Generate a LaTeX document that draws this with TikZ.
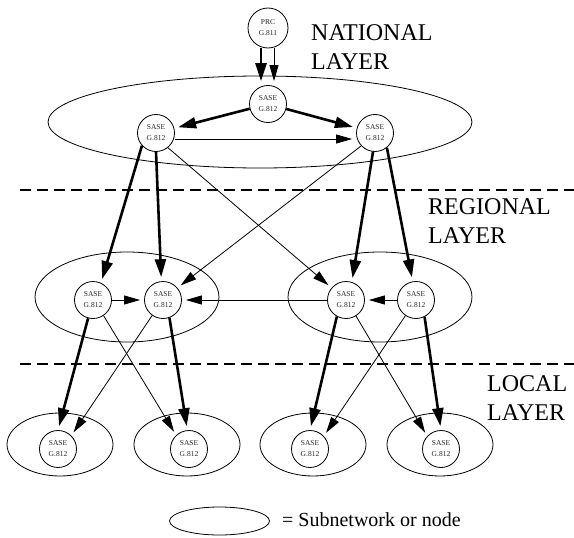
\documentclass[tikz,border=0pt]{standalone}
\usepackage{fontspec}
\setmainfont{Liberation Serif}
\usetikzlibrary{arrows.meta,shapes.geometric}
\tikzset{
  site/.style={circle, draw, fill=white, line width=0.8pt, minimum size=37pt, inner sep=0pt,
    font=\fontsize{7.5}{11}\selectfont, align=center, text=black!85},
  net/.style={ellipse, draw, line width=0.8pt, inner sep=0pt},
  big/.style={-{Triangle[length=18pt,width=11pt]}, line width=2.6pt, shorten >=4pt},
  small/.style={-{Triangle[length=16pt,width=9pt]}, line width=0.8pt, shorten >=4pt},
  layer/.style={font=\fontsize{24}{29}\selectfont, align=left, inner sep=0pt, anchor=north west},
  sep/.style={line width=2.6pt, dash pattern=on 11pt off 6pt}
}
\begin{document}
\begin{tikzpicture}[x=1pt,y=-1pt]
\useasboundingbox (0,0) rectangle (574,538);
% subnetworks
\node[net, minimum width=424pt, minimum height=92pt] (nat) at (260,122) {};
\node[net, minimum width=184pt, minimum height=90pt] (regA) at (127,297) {};
\node[net, minimum width=184pt, minimum height=90pt] (regB) at (380,297) {};
\node[net, minimum width=106pt, minimum height=63pt] (locA) at (60,444.5) {};
\node[net, minimum width=106pt, minimum height=63pt] (locB) at (187,444.5) {};
\node[net, minimum width=106pt, minimum height=63pt] (locC) at (313,444.5) {};
\node[net, minimum width=106pt, minimum height=63pt] (locD) at (440,444.5) {};
% separators
\draw[sep] (20,190) -- (574,190);
\draw[sep] (20,364) -- (574,364);
% clocks
\node[site, minimum size=40pt] (prc) at (268,28) {PRC\\G.811};
\node[site] (n0) at (268,104) {SASE\\G.812};
\node[site] (n1) at (156,133) {SASE\\G.812};
\node[site] (n2) at (375,133) {SASE\\G.812};
\node[site] (rl1) at (93,300) {SASE\\G.812};
\node[site] (rl2) at (163,300) {SASE\\G.812};
\node[site] (rr1) at (346,300) {SASE\\G.812};
\node[site] (rr2) at (416,300) {SASE\\G.812};
\node[site] (l1) at (58,449) {SASE\\G.812};
\node[site] (l2) at (189,449) {SASE\\G.812};
\node[site] (l3) at (310,449) {SASE\\G.812};
\node[site] (l4) at (441,449) {SASE\\G.812};
% national
\draw[big] ([xshift=-7pt]prc.south) -- ([xshift=-7pt]n0.north);
\draw[small] ([xshift=6pt]prc.south) -- ([xshift=6pt]n0.north);
\draw[big] (n0) -- (n1);
\draw[big] (n0) -- (n2);
\draw[small] ([yshift=-6pt]n1.east) -- ([yshift=-6pt]n2.west);
% national to regional
\draw[big] (n1.222) -- (rl1.65);
\draw[big] (n1.270) -- (rl2.95);
\draw[small] (n1.309) -- (rr1.140);
\draw[small] (n2.223) -- (rl2.40);
\draw[big] (n2.264) -- (rr1.72);
\draw[big] (n2.309) -- (rr2.100);
% regional
\draw[small] (rl1) -- (rl2);
\draw[small] (rr1) -- (rl2);
\draw[small] (rr2) -- (rr1);
% regional to local
\draw[big] (rl1.255) -- (l1.90);
\draw[small] (rl1.304) -- (l2.133);
\draw[small] (rl2.235) -- (l1.45);
\draw[big] (rl2.290) -- (l2.95);
\draw[big] (rr1.241) -- (l3.90);
\draw[small] (rr1.302) -- (l4.137);
\draw[small] (rr2.236) -- (l3.43);
\draw[big] (rr2.297) -- (l4.90);
% labels
\node[layer] (natl) at (311,24) {NATIONAL\\LAYER};
\node[layer] (regl) at (428,198) {REGIONAL\\LAYER};
\node[layer] (locl) at (487,375) {LOCAL\\LAYER};
% legend
\node[net, minimum width=100pt, minimum height=28pt] (leg) at (219.5,521) {};
\node[anchor=base west, inner sep=0pt, font=\fontsize{20}{24}\selectfont] (legt) at (282,526) {= Subnetwork or node};
\end{tikzpicture}
\end{document}
